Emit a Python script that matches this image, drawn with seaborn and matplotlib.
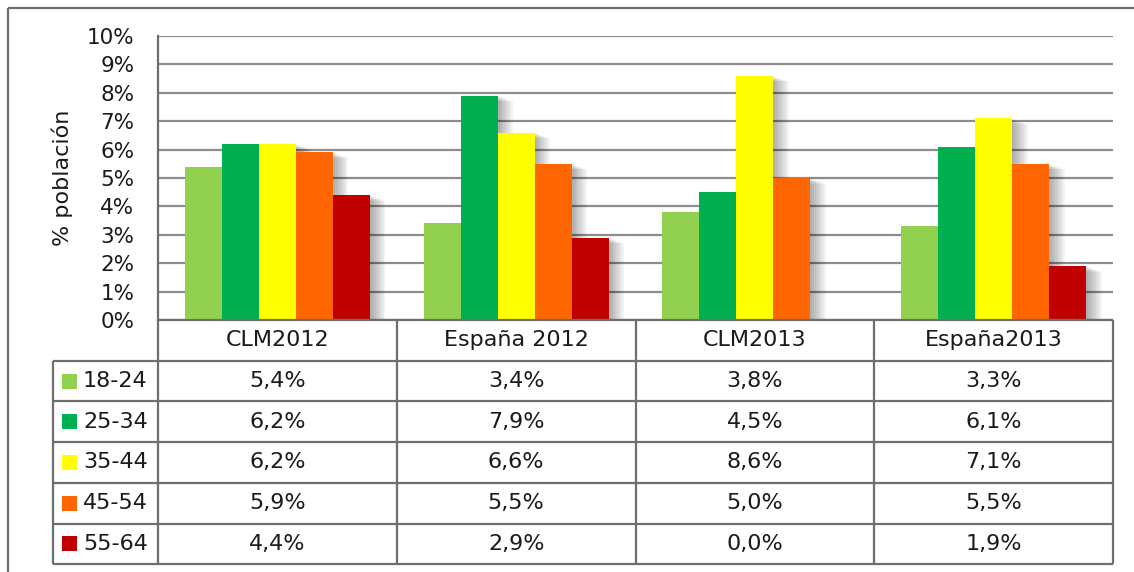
import matplotlib
matplotlib.use("Agg")
import matplotlib.pyplot as plt
import matplotlib.patheffects as pe
from matplotlib.patches import Rectangle
from matplotlib.ticker import MultipleLocator, FuncFormatter
import seaborn as sns
import pandas as pd

regions = ["CLM2012", "España 2012", "CLM2013", "España2013"]
age_groups = ["18-24", "25-34", "35-44", "45-54", "55-64"]
colors = ["#92D050", "#00B050", "#FFFF00", "#FF6600", "#C00000"]

v_18_24 = [5.4, 3.4, 3.8, 3.3]
v_25_34 = [6.2, 7.9, 4.5, 6.1]
v_35_44 = [6.2, 6.6, 8.6, 7.1]
v_45_54 = [5.9, 5.5, 5.0, 5.5]
v_55_64 = [4.4, 2.9, 0.0, 1.9]
series = [v_18_24, v_25_34, v_35_44, v_45_54, v_55_64]

rows = []
for age, vals in zip(age_groups, series):
    for reg, v in zip(regions, vals):
        rows.append({"region": reg, "age": age, "value": v})
df = pd.DataFrame(rows)

sns.set_style("white")
plt.rcParams["font.family"] = ["DejaVu Sans"]

LINE = "#6e6e6e"
TXT = "#1a1a1a"
W, H = 1134, 572
fig = plt.figure(figsize=(W / 100, H / 100), dpi=100)

# plot area in pixels
ax_l, ax_r, ax_b, ax_t = 158, 1113, 320, 36
ax = fig.add_axes([ax_l / W, 1 - ax_b / H, (ax_r - ax_l) / W, (ax_b - ax_t) / H])

sns.barplot(data=df, x="region", y="value", hue="age", order=regions,
            hue_order=age_groups, palette=colors, width=0.775, saturation=1,
            errorbar=None, legend=False, ax=ax, zorder=3)

# soft Excel-like drop shadow to the right
shadow = [pe.SimplePatchShadow(offset=(k * 1.4, -k * 0.5), shadow_rgbFace="#000000", alpha=0.045)
          for k in range(1, 9)] + [pe.Normal()]
for p in ax.patches:
    p.set_linewidth(0)
    p.set_path_effects(shadow)

ax.set_xlim(-0.5, 3.5)
ax.set_ylim(0, 10)
ax.yaxis.set_major_locator(MultipleLocator(1))
ax.yaxis.set_major_formatter(FuncFormatter(lambda v, _: f"{v:.0f}%"))
ax.set_xticks([])
ax.set_xlabel("")
ax.set_ylabel("% población", fontsize=16, color=TXT, labelpad=10)
ax.tick_params(axis="y", length=0, pad=17, labelsize=15.5, labelcolor=TXT)
ax.grid(axis="y", color="#8c8c8c", lw=1.6)
ax.set_axisbelow(True)
for s in ["top", "right", "bottom"]:
    ax.spines[s].set_visible(False)
ax.spines["left"].set_color(LINE)
ax.spines["left"].set_linewidth(1.6)

# data table drawn in pixel coordinates
ov = fig.add_axes([0, 0, 1, 1], facecolor="none")
ov.set_xlim(0, W)
ov.set_ylim(H, 0)
ov.axis("off")

tab_l = 53
col_w = (ax_r - ax_l) / len(regions)
col_x = [ax_l + i * col_w for i in range(len(regions) + 1)]
row_h = 40.7
row_y = [ax_b + k * row_h for k in range(len(age_groups) + 2)]

ov.hlines(row_y[0], ax_l, ax_r, color=LINE, lw=1.6)
ov.hlines(row_y[1:], tab_l, ax_r, color=LINE, lw=1.6)
ov.vlines(tab_l, row_y[1], row_y[-1], color=LINE, lw=1.6)
ov.vlines(col_x, row_y[0], row_y[-1], color=LINE, lw=1.6)

for i, reg in enumerate(regions):
    ov.text(col_x[i] + col_w / 2, (row_y[0] + row_y[1]) / 2, reg,
            ha="center", va="center", fontsize=16, color=TXT)

for r, (age, vals, c) in enumerate(zip(age_groups, series, colors)):
    yc = (row_y[r + 1] + row_y[r + 2]) / 2
    ov.add_patch(Rectangle((62, yc - 7.5), 15, 15, color=c, lw=0))
    ov.text(83, yc, age, ha="left", va="center", fontsize=16, color=TXT)
    for i, v in enumerate(vals):
        ov.text(col_x[i] + col_w / 2, yc, f"{v:.1f}%".replace(".", ","),
                ha="center", va="center", fontsize=16, color=TXT)

# outer chart border (partially cropped in the original)
ov.hlines(8, 8, W, color=LINE, lw=1.6)
ov.vlines(8, 8, H, color=LINE, lw=1.6)

fig.savefig("out.png", dpi=100)
